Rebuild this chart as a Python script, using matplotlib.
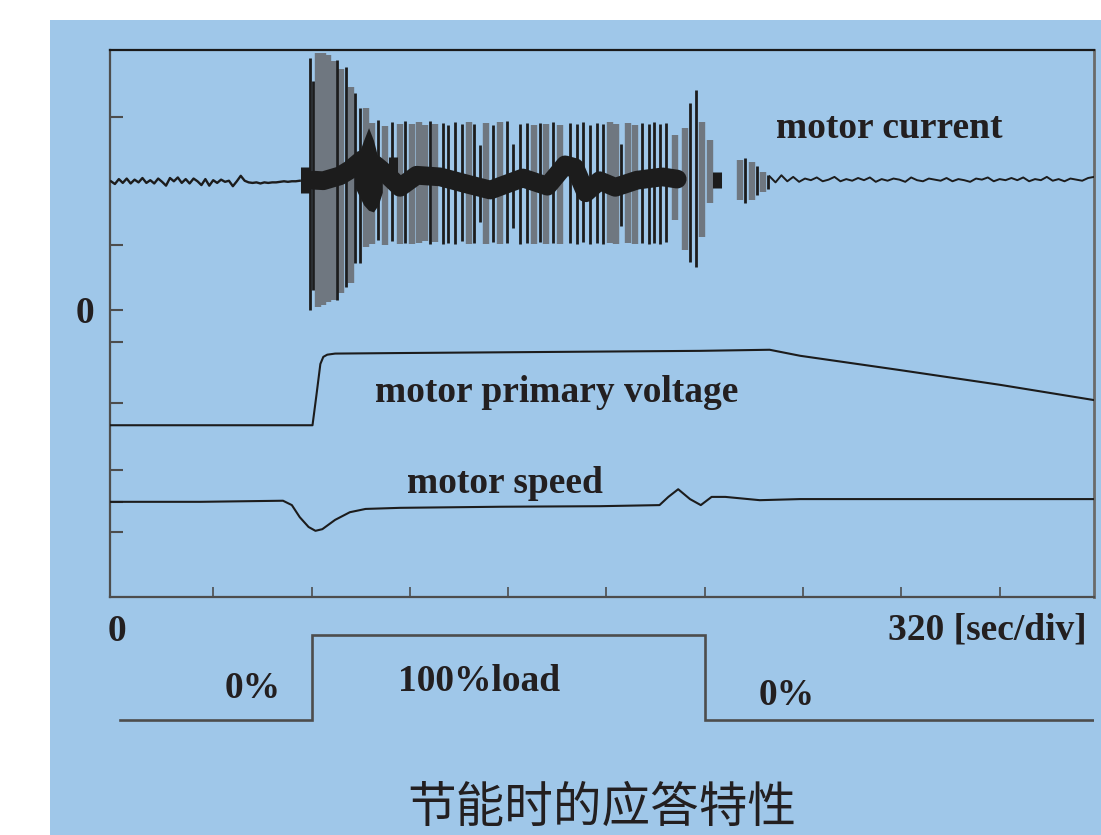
import matplotlib.pyplot as plt
from matplotlib.patches import Rectangle

plt.rcParams['font.family'] = ['Liberation Serif', 'DejaVu Serif']

W, H = 1101, 835
PANEL = '#9fc7e9'
INK = '#231f20'
DARK = '#1c1c1c'
GREY = '#6f7780'

# time in divisions (320 sec/div), trace levels in % of screen height (0 = bottom, 100 = top)

# motor current: quiet trace before the load step
cur_left_t = [-0.04, 0.0, 0.04, 0.08, 0.12, 0.16, 0.2, 0.24, 0.28, 0.32,
              0.36, 0.4, 0.44, 0.48, 0.52, 0.56, 0.6, 0.64, 0.68, 0.72,
              0.76, 0.8, 0.84, 0.88, 0.92, 0.96, 1.0, 1.04, 1.08, 1.12,
              1.16, 1.2, 1.24, 1.28, 1.32, 1.36, 1.4, 1.44, 1.48, 1.52,
              1.56, 1.6, 1.64, 1.68, 1.72, 1.76, 1.8, 1.84, 1.88]
cur_left_y = [76.0, 75.5, 76.4, 75.7, 76.5, 75.6, 76.3, 75.8, 76.6, 75.7,
              76.2, 75.6, 76.5, 75.9, 75.2, 76.6, 76.0, 76.7, 75.7, 76.4,
              75.6, 76.5, 76.0, 75.3, 76.4, 75.2, 76.2, 75.7, 76.3, 75.9,
              76.1, 75.1, 76.0, 77.0, 76.1, 75.8, 75.7, 75.8, 75.6, 75.8,
              75.7, 75.8, 75.8, 75.9, 76.0, 75.9, 76.0, 76.0, 76.1]

# motor current: thick mean band while loaded
cur_band_t = [2.02, 2.12, 2.29, 2.39, 2.51, 2.65, 2.75, 2.90, 3.07, 3.31,
              3.58, 3.82, 4.15, 4.40, 4.58, 4.68, 4.79, 4.93, 5.09, 5.31,
              5.57, 5.72]
cur_band_y = [76.2, 76.1, 77.0, 78.1, 79.9, 79.0, 77.5, 74.9, 77.1, 76.8,
              75.5, 74.4, 76.6, 75.1, 79.0, 78.5, 73.9, 76.1, 74.9, 76.2,
              76.8, 76.4]

# motor current: surge blob right after the load step
blob_t = [2.44, 2.48, 2.53, 2.58, 2.63, 2.68, 2.72]
blob_top = [78.5, 81.0, 83.5, 85.8, 83.5, 80.0, 78.0]
blob_bot = [75.0, 73.5, 71.7, 70.7, 70.4, 71.7, 74.0]

# motor current: quiet trace after the load is removed
cur_right_t = [6.66, 6.72, 6.78, 6.84, 6.90, 6.96, 7.02, 7.08, 7.14, 7.20,
               7.26, 7.32, 7.38, 7.44, 7.50, 7.56, 7.62, 7.68, 7.74, 7.80,
               7.86, 7.92, 7.98, 8.04, 8.10, 8.16, 8.22, 8.28, 8.34, 8.40,
               8.46, 8.52, 8.58, 8.64, 8.70, 8.76, 8.82, 8.88, 8.94, 9.00,
               9.06, 9.12, 9.18, 9.24, 9.30, 9.36, 9.42, 9.48, 9.54, 9.60,
               9.66, 9.72, 9.78, 9.84, 9.90, 9.96]
cur_right_y = [76.9, 75.8, 77.1, 76.0, 76.8, 75.9, 76.5, 76.2, 76.7, 76.0,
               76.3, 76.8, 76.0, 76.4, 76.1, 76.6, 76.2, 76.7, 75.9, 76.4,
               76.1, 76.5, 76.3, 75.9, 76.7, 76.2, 76.0, 76.5, 76.3, 76.1,
               76.6, 76.0, 76.4, 76.2, 75.9, 76.5, 76.3, 76.7, 76.0, 76.4,
               76.2, 76.6, 76.2, 76.7, 76.0, 76.4, 76.2, 76.8, 76.1, 76.4,
               76.0, 76.5, 76.3, 76.1, 76.6, 76.8]

# motor current: ripple envelope (k = dark, g = grey, b = dense blob)
spike_t = [1.98, 2.01, 2.07, 2.12, 2.17, 2.22, 2.26, 2.30, 2.35, 2.40,
           2.44, 2.49, 2.55,
           2.62, 2.68, 2.75, 2.82, 2.90, 2.95, 3.02, 3.09, 3.15, 3.21,
           3.26, 3.34, 3.39, 3.46, 3.53, 3.60, 3.65, 3.71, 3.77, 3.85,
           3.92, 3.99, 4.05, 4.12, 4.19, 4.26, 4.32, 4.39, 4.46, 4.53,
           4.63, 4.70, 4.76, 4.83, 4.90, 4.97, 5.04, 5.10, 5.15, 5.22,
           5.29, 5.36, 5.43, 5.48, 5.55, 5.61, 5.70,
           5.80, 5.85, 5.91, 5.97, 6.05,
           1.93, 6.12, 2.83,
           6.36, 6.41, 6.48, 6.53, 6.59, 6.64]
spike_top = [98.5, 94.4, 99.5, 99.5, 99.0, 98.0, 98.2, 96.5, 96.9, 93.2,
             92.1, 89.4, 89.4,
             86.6, 87.2, 86.1, 86.9, 86.4, 87.1, 86.5, 86.8, 86.2, 87.0,
             86.4, 86.7, 86.3, 86.9, 86.5, 86.8, 86.4, 82.7, 86.6, 86.2,
             86.8, 87.1, 82.9, 86.5, 86.7, 86.3, 86.6, 86.4, 86.8, 86.2,
             86.7, 86.5, 86.9, 86.3, 86.6, 86.4, 86.8, 86.5, 82.8, 86.7,
             86.3, 86.6, 86.5, 86.8, 86.4, 86.6, 84.5,
             85.7, 90.3, 92.7, 86.8, 83.5,
             78.6, 77.7, 80.4,
             79.9, 80.3, 79.5, 78.8, 77.7, 77.2]
spike_bot = [52.5, 56.1, 53.0, 53.4, 54.0, 54.3, 54.3, 55.5, 56.7, 57.4,
             61.1, 61.1, 64.0,
             64.6, 65.3, 64.4, 65.0, 64.6, 64.8, 64.5, 64.7, 65.1, 64.6,
             64.9, 64.5, 64.8, 64.6, 65.0, 64.5, 64.7, 68.6, 64.6, 64.9,
             64.5, 64.8, 67.5, 64.6, 64.7, 64.5, 64.9, 64.6, 64.8, 64.5,
             64.7, 64.6, 64.9, 64.5, 64.8, 64.6, 64.7, 64.5, 67.8, 64.8,
             64.6, 64.7, 64.5, 64.8, 64.6, 64.9, 68.9,
             63.4, 61.2, 60.3, 65.8, 72.0,
             73.9, 74.8, 75.0,
             72.6, 72.0, 72.6, 73.5, 74.0, 74.6]
spike_kind = ['k', 'k', 'g', 'g', 'g', 'g', 'k', 'g', 'k', 'g',
              'k', 'k', 'g',
              'g', 'k', 'g', 'k', 'g', 'k', 'g', 'g', 'g', 'k',
              'g', 'k', 'k', 'k', 'k', 'g', 'k', 'k', 'g', 'k',
              'g', 'k', 'k', 'k', 'k', 'g', 'k', 'g', 'k', 'g',
              'k', 'k', 'k', 'k', 'k', 'k', 'g', 'g', 'k', 'g',
              'g', 'k', 'k', 'k', 'k', 'k', 'g',
              'g', 'k', 'k', 'g', 'g',
              'b', 'b', 'b',
              'g', 'k', 'g', 'k', 'g', 'k']

# motor primary voltage
volt_t = [-0.05, 2.01, 2.05, 2.09, 2.12, 2.16, 2.24, 2.90, 4.43, 5.95,
          6.66, 6.97, 7.98, 9.00, 9.96]
volt_y = [31.4, 31.4, 36.9, 42.6, 43.9, 44.3, 44.5, 44.6, 44.8, 45.0,
          45.2, 44.1, 41.5, 38.8, 36.0]

# motor speed
speed_t = [-0.05, 0.87, 1.71, 1.80, 1.88, 1.97, 2.04, 2.11, 2.24, 2.39,
           2.55, 2.90, 3.92, 4.93, 5.54, 5.63, 5.73, 5.85, 5.96, 6.07,
           6.21, 6.56, 6.97, 9.96]
speed_y = [17.4, 17.4, 17.6, 16.8, 14.6, 12.8, 12.1, 12.4, 14.1, 15.5,
           16.1, 16.3, 16.5, 16.6, 16.8, 18.3, 19.7, 17.9, 16.8, 18.3,
           18.3, 17.7, 17.9, 17.9]

# load step
load_t = [0.05, 2.0, 2.0, 6.0, 6.0, 9.95]
load_pct = [0, 0, 100, 100, 0, 0]

y_ticks = [87.8, 64.4, 52.5, 46.6, 35.5, 23.2, 17.4, 11.9]
y_ticklabels = ['', '', '0', '', '', '', '', '']
x_ticks = [1, 2, 3, 4, 5, 6, 7, 8, 9]

fig = plt.figure(figsize=(W / 100, H / 100), dpi=100)
fig.patch.set_facecolor('white')
fig.patches.append(Rectangle((50 / W, 0), 1, 1 - 20 / H, transform=fig.transFigure,
                             facecolor=PANEL, edgecolor='none', zorder=-1))

ax = fig.add_axes([110 / W, 1 - 597 / H, 984 / W, 547 / H])
ax.set_zorder(1)
ax.patch.set_alpha(0)
ax.set_xlim(-0.05, 9.96)
ax.set_ylim(0, 100)

colors = {'k': DARK, 'g': GREY, 'b': DARK}
widths = {'k': 2.0, 'g': 4.6, 'b': 6.5}
zs = {'g': 2, 'k': 3, 'b': 4}
for kind in ['g', 'k', 'b']:
    idx = [i for i, k in enumerate(spike_kind) if k == kind]
    ax.vlines([spike_t[i] for i in idx], [spike_bot[i] for i in idx],
              [spike_top[i] for i in idx], colors=colors[kind],
              linewidth=widths[kind], zorder=zs[kind])

ax.fill_between(blob_t, blob_bot, blob_top, color=DARK, lw=0, zorder=4)
ax.plot(cur_band_t, cur_band_y, color=DARK, lw=13.5, solid_joinstyle='round',
        solid_capstyle='round', zorder=4)
ax.plot(cur_left_t, cur_left_y, color=DARK, lw=1.7, zorder=3)
ax.plot(cur_right_t, cur_right_y, color=DARK, lw=1.4, zorder=3)
ax.plot(volt_t, volt_y, color=DARK, lw=1.5, zorder=3)
ax.plot(speed_t, speed_y, color=DARK, lw=1.5, zorder=3)

for side, col, lw in [('top', '#1a1a1a', 1.6), ('right', '#6a6a6a', 2.0),
                      ('left', '#4d4d4d', 1.6), ('bottom', '#4d4d4d', 1.6)]:
    ax.spines[side].set_color(col)
    ax.spines[side].set_linewidth(lw)

ax.set_yticks(y_ticks)
ax.set_yticklabels(y_ticklabels, fontsize=27, fontweight='bold', color=INK)
ax.tick_params(axis='y', direction='in', length=9, width=1.5, color='#4d4d4d', pad=11)
ax.set_xticks(x_ticks)
ax.set_xticklabels([])
ax.tick_params(axis='x', direction='in', length=7, width=1.2, color='#4d4d4d')

# load step below the screen
ax2 = fig.add_axes([110 / W, 1 - 740 / H, 984 / W, 125 / H])
ax2.set_zorder(1)
ax2.axis('off')
ax2.set_xlim(-0.05, 9.96)
ax2.set_ylim(-23.5, 123.5)
ax2.plot(load_t, load_pct, color='#4d4d4d', lw=1.9, solid_joinstyle='miter')

lab = dict(fontsize=27, fontweight='bold', color=INK)
fig.text(889 / W, 1 - 138 / H, 'motor current', ha='center', va='baseline', **lab)
fig.text(557 / W, 1 - 402 / H, 'motor primary voltage', ha='center', va='baseline', **lab)
fig.text(505 / W, 1 - 493 / H, 'motor speed', ha='center', va='baseline', **lab)
fig.text(117 / W, 1 - 641 / H, '0', ha='center', va='baseline', **lab)
fig.text(1087 / W, 1 - 640 / H, '320 [sec/div]', ha='right', va='baseline', **lab)
fig.text(253 / W, 1 - 698 / H, '0%', ha='center', va='baseline', **lab)
fig.text(479 / W, 1 - 691 / H, '100%load', ha='center', va='baseline', **lab)
fig.text(787 / W, 1 - 705 / H, '0%', ha='center', va='baseline', **lab)

fig.text(602 / W, 1 - 822 / H, '节能时的应答特性', ha='center', va='baseline',
         fontsize=35, color=INK, family=['Noto Sans CJK SC', 'DejaVu Sans'])

fig.savefig('out.png', dpi=100)
